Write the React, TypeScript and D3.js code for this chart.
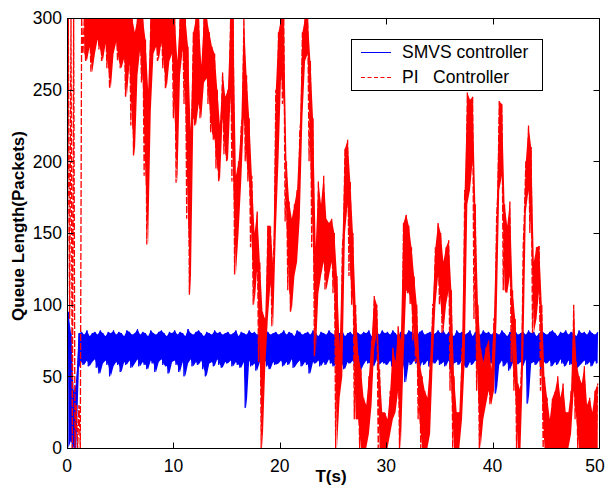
import React, { useMemo } from 'react';
import * as d3 from 'd3';

const W = 607;
const H = 489;
const PLOT = { left: 67, right: 599, top: 18, bottom: 448 };

const X_TICKS = [0, 10, 20, 30, 40, 50];
const Y_TICKS = [0, 50, 100, 150, 200, 250, 300];
const X_LABEL = 'T(s)';
const Y_LABEL = 'Queue Length(Packets)';
const LEGEND = ['SMVS controller', 'PI   Controller'];

// bin width (seconds) of the min/max envelopes
const BIN = 0.25;

// SMVS controller: per-bin low / high (packets), 0..50 s
const blueLo = [
  0, 5, 0, 0, 56, 60, 58, 61, 57, 60, 62, 56, 52, 59, 61, 58, 50, 57, 60, 58,
  53, 60, 58, 61, 56, 59, 62, 57, 60, 58, 55, 61, 59, 53, 60, 62, 58, 57, 52, 60,
  61, 58, 53, 60, 50, 59, 62, 57, 60, 58, 61, 55, 50, 59, 60, 57, 62, 58, 56, 60,
  59, 61, 57, 60, 58, 56, 60, 28, 61, 57, 59, 54, 60, 58, 61, 57, 55, 60, 58, 59,
  61, 57, 60, 58, 62, 56, 59, 61, 57, 60, 58, 52, 60, 59, 61, 57, 60, 58, 62, 59,
  57, 60, 61, 58, 55, 60, 59, 61, 57, 60, 54, 58, 61, 59, 60, 57, 62, 58, 60, 59,
  58, 61, 57, 60, 59, 62, 57, 46, 60, 58, 61, 59, 55, 60, 58, 61, 57, 60, 59, 62,
  58, 60, 57, 61, 55, 59, 60, 58, 61, 57, 56, 60, 58, 61, 59, 57, 60, 58, 61, 59,
  60, 38, 58, 61, 57, 60, 54, 59, 61, 58, 60, 57, 62, 31, 59, 60, 58, 61, 55, 60,
  59, 61, 57, 60, 58, 62, 59, 57, 61, 58, 60, 55, 57, 59, 61, 58, 60, 57, 61, 59,
];
const blueHi = [
  95, 80, 40, 45, 80, 81, 79, 82, 78, 80, 81, 79, 82, 80, 78, 81, 80, 82, 79, 81,
  80, 78, 82, 81, 79, 80, 83, 79, 81, 80, 78, 82, 80, 79, 81, 82, 80, 78, 81, 80,
  82, 79, 81, 80, 78, 83, 80, 79, 81, 82, 80, 78, 81, 80, 79, 82, 80, 81, 79, 80,
  81, 79, 80, 82, 78, 81, 80, 79, 82, 80, 81, 79, 80, 78, 82, 81, 79, 80, 81, 79,
  80, 82, 79, 81, 80, 78, 82, 81, 79, 80, 81, 79, 82, 80, 78, 81, 80, 79, 82, 80,
  79, 81, 80, 82, 78, 80, 81, 79, 82, 80, 79, 81, 80, 82, 78, 80, 81, 79, 82, 80,
  81, 79, 82, 80, 78, 81, 80, 79, 82, 81, 80, 78, 81, 82, 79, 80, 81, 79, 80, 82,
  80, 82, 79, 81, 80, 78, 82, 80, 81, 79, 80, 82, 78, 81, 80, 79, 82, 80, 81, 79,
  81, 80, 79, 82, 80, 78, 81, 80, 82, 79, 80, 81, 79, 82, 80, 81, 78, 80, 82, 80,
  79, 81, 82, 80, 78, 81, 80, 82, 79, 81, 80, 78, 82, 80, 81, 79, 82, 80, 79, 81,
];

// PI controller: per-bin low / high (packets), 0..50 s
const redLo = [
  0, 90, 0, 0, 0, 0, 275, 270, 280, 262, 275, 285, 278, 270, 282, 265, 251, 275, 283, 270,
  265, 272, 245, 268, 225, 204, 260, 278, 255, 190, 142, 235, 275, 280, 270, 283, 265, 251, 270, 275,
  230, 185, 260, 278, 240, 160, 107, 230, 225, 240, 230, 255, 258, 240, 220, 215, 195, 186, 230, 205,
  200, 245, 186, 121, 150, 186, 230, 200, 186, 140, 100, 125, 60, 0, 55, 90, 115, 85, 150, 200,
  260, 240, 158, 110, 95, 120, 130, 160, 230, 270, 275, 200, 140, 64, 108, 120, 130, 110, 120, 130,
  108, 0, 35, 50, 150, 170, 120, 100, 20, 20, 0, 0, 0, 10, 30, 70, 80, 0, 0, 0,
  0, 10, 20, 25, 40, 0, 60, 110, 108, 100, 75, 60, 20, 0, 0, 0, 10, 60, 100, 120,
  100, 80, 100, 110, 40, 0, 0, 0, 20, 60, 170, 180, 200, 90, 40, 0, 20, 30, 40, 30,
  40, 90, 180, 190, 110, 108, 120, 60, 40, 0, 0, 60, 165, 180, 150, 80, 90, 110, 40, 0,
  0, 0, 0, 0, 0, 0, 0, 0, 0, 10, 40, 20, 0, 0, 0, 0, 0, 0, 0, 0,
];
const redHi = [
  300, 300, 300, 30, 30, 300, 300, 300, 300, 300, 300, 300, 300, 300, 300, 300, 300, 300, 300, 300,
  300, 300, 300, 300, 300, 290, 300, 300, 300, 285, 250, 300, 300, 300, 300, 300, 300, 300, 300, 300,
  300, 270, 300, 300, 300, 280, 220, 290, 300, 300, 267, 300, 300, 290, 280, 275, 250, 225, 262, 245,
  250, 300, 300, 190, 200, 225, 300, 260, 230, 190, 150, 165, 130, 95, 90, 155, 155, 127, 250, 290,
  300, 300, 200, 172, 160, 170, 180, 220, 290, 300, 300, 270, 230, 140, 186, 170, 190, 160, 157, 160,
  150, 120, 70, 140, 209, 215, 186, 150, 100, 65, 55, 35, 30, 50, 75, 106, 100, 55, 25, 25,
  20, 40, 70, 60, 85, 75, 157, 163, 155, 140, 120, 100, 60, 50, 40, 35, 60, 100, 140, 157,
  150, 130, 140, 145, 110, 50, 25, 25, 70, 180, 248, 243, 245, 170, 100, 70, 60, 70, 75, 55,
  90, 160, 242, 240, 170, 155, 172, 110, 90, 45, 40, 140, 200, 225, 210, 130, 140, 141, 100, 50,
  35, 20, 35, 40, 50, 35, 45, 25, 25, 40, 100, 60, 50, 45, 57, 30, 35, 25, 40, 45,
];

// the first 1.5 s of the PI trace are isolated swings, drawn as strokes only
const RED_TRANSIENT_BINS = 6;

const FONT = '"Liberation Sans", Arial, Helvetica, sans-serif';

type Bin = { t: number; lo: number; hi: number };

function bins(lo: number[], hi: number[]): Bin[] {
  return lo.map((l, i) => ({ t: i * BIN, lo: l, hi: hi[i] }));
}

function zigzag(b: Bin[]): [number, number][] {
  const pts: [number, number][] = [];
  b.forEach((d) => {
    pts.push([d.t, d.lo]);
    pts.push([d.t + BIN / 2, d.hi]);
  });
  return pts;
}

export default function App() {
  const x = d3.scaleLinear().domain([0, 50]).range([PLOT.left, PLOT.right]);
  const y = d3.scaleLinear().domain([0, 300]).range([PLOT.bottom, PLOT.top]);

  const line = d3
    .line<[number, number]>()
    .x((d) => x(d[0]))
    .y((d) => y(Math.min(300, d[1])));

  const area = d3
    .area<Bin>()
    .x((d) => x(d.t + BIN / 2))
    .y0((d) => y(d.lo))
    .y1((d) => y(Math.min(300, d.hi)));

  const blueBins = useMemo(() => bins(blueLo, blueHi), []);
  const redBins = useMemo(() => bins(redLo, redHi), []);

  const blueLine = line(zigzag(blueBins)) || '';
  const redLine = line(zigzag(redBins)) || '';
  const blueArea = area(blueBins) || '';
  const redArea = area(redBins.slice(RED_TRANSIENT_BINS)) || '';

  const TL = 6;
  const L = PLOT.left + 0.5;
  const R = PLOT.right + 0.5;
  const T = PLOT.top + 0.5;
  const B = PLOT.bottom + 0.5;

  const xLabelPos = (t: number) => Math.min(x(t), W - 12);

  return (
    <svg
      width={W}
      height={H}
      viewBox={`0 0 ${W} ${H}`}
      style={{ position: 'absolute', left: 0, top: 0, background: '#fff' }}
      fontFamily={FONT}
    >
      <rect x={0} y={0} width={W} height={H} fill="#fff" />
      <defs>
        <clipPath id="plotClip">
          <rect x={PLOT.left} y={PLOT.top} width={PLOT.right - PLOT.left + 1} height={PLOT.bottom - PLOT.top + 1} />
        </clipPath>
      </defs>

      <g clipPath="url(#plotClip)">
        <path d={blueArea} fill="#0000ff" stroke="none" />
        <path d={blueLine} fill="none" stroke="#0000ff" strokeWidth={1} />
        <path d={redArea} fill="#ff0000" stroke="none" />
        <path d={redLine} fill="none" stroke="#ff0000" strokeWidth={1.3} strokeDasharray="7 2" />
      </g>

      {/* box */}
      <rect x={L} y={T} width={R - L} height={B - T} fill="none" stroke="#000" strokeWidth={1} />

      {/* x ticks */}
      {X_TICKS.map((t) => (
        <g key={`xt${t}`}>
          <line x1={Math.round(x(t)) + 0.5} x2={Math.round(x(t)) + 0.5} y1={B} y2={B - TL} stroke="#000" />
          <line x1={Math.round(x(t)) + 0.5} x2={Math.round(x(t)) + 0.5} y1={T} y2={T + TL} stroke="#000" />
          <text x={xLabelPos(t)} y={472} fontSize={17.5} textAnchor="middle" fill="#000">
            {t}
          </text>
        </g>
      ))}

      {/* y ticks */}
      {Y_TICKS.map((t) => (
        <g key={`yt${t}`}>
          <line x1={L} x2={L + TL} y1={Math.round(y(t)) + 0.5} y2={Math.round(y(t)) + 0.5} stroke="#000" />
          <line x1={R} x2={R - TL} y1={Math.round(y(t)) + 0.5} y2={Math.round(y(t)) + 0.5} stroke="#000" />
          <text x={62} y={y(t) + 6.3} fontSize={17.5} textAnchor="end" fill="#000">
            {t}
          </text>
        </g>
      ))}

      {/* axis labels */}
      <text x={331} y={482} fontSize={17} fontWeight="bold" textAnchor="middle" fill="#000">
        {X_LABEL}
      </text>
      <text
        transform={`translate(24,226) rotate(-90)`}
        fontSize={17}
        fontWeight="bold"
        textAnchor="middle"
        fill="#000"
      >
        {Y_LABEL}
      </text>

      {/* legend */}
      <g>
        <rect x={351.5} y={39.5} width={191} height={51} fill="#fff" stroke="#000" strokeWidth={1} />
        <line x1={361} x2={391} y1={52.5} y2={52.5} stroke="#0000ff" strokeWidth={1} />
        <line x1={361} x2={391} y1={77.5} y2={77.5} stroke="#ff0000" strokeWidth={1.2} strokeDasharray="4 2.5" />
        <text x={402} y={58} fontSize={17.5} fill="#000">
          {LEGEND[0]}
        </text>
        <text x={402} y={83} fontSize={17.5} fill="#000" style={{ whiteSpace: 'pre' }} xmlSpace="preserve">
          {LEGEND[1]}
        </text>
      </g>
    </svg>
  );
}
